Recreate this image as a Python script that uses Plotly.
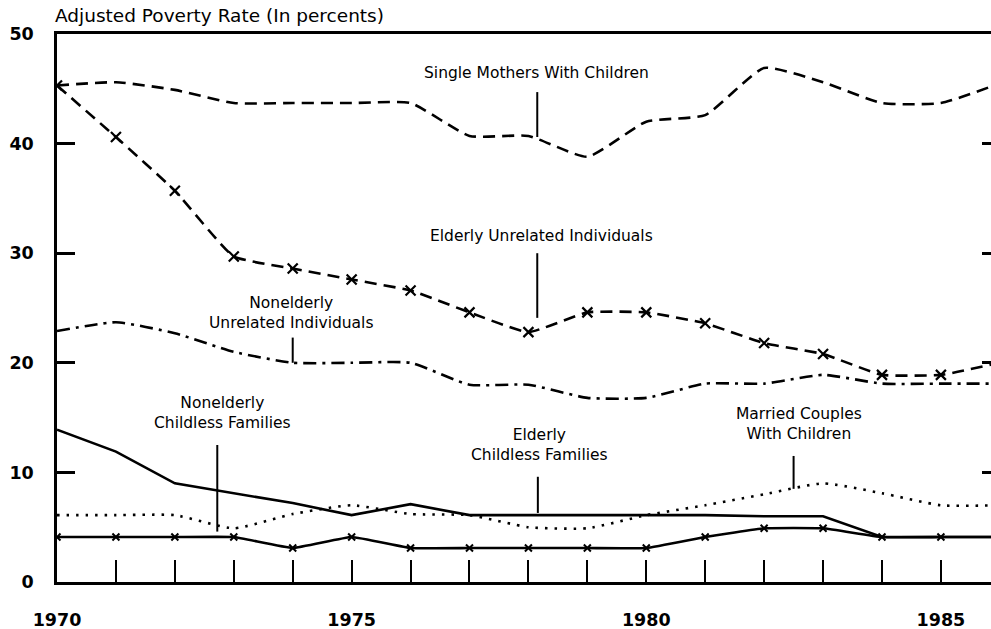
import plotly.graph_objects as go

years = list(range(1970, 1987))

single_mothers = [45.3, 45.6, 44.9, 43.7, 43.7, 43.7, 43.7, 40.7, 40.7, 38.8, 42.0, 42.6, 46.9, 45.6, 43.7, 43.7, 45.5]
elderly_unrelated = [45.3, 40.6, 35.7, 29.7, 28.6, 27.6, 26.6, 24.6, 22.8, 24.6, 24.6, 23.6, 21.8, 20.8, 18.9, 18.9, 20.0]
nonelderly_unrelated = [22.9, 23.7, 22.7, 21.0, 20.0, 20.0, 20.0, 18.0, 18.0, 16.8, 16.8, 18.1, 18.1, 18.9, 18.1, 18.1, 18.1]
solid_families = [13.9, 11.9, 9.0, 8.1, 7.2, 6.1, 7.1, 6.1, 6.1, 6.1, 6.1, 6.1, 6.0, 6.0, 4.1, 4.1, 4.1]
married_couples = [6.1, 6.1, 6.1, 4.9, 6.2, 7.0, 6.2, 6.1, 5.0, 4.9, 6.1, 7.0, 8.0, 9.0, 8.1, 7.0, 7.0]
bottom_families = [4.1, 4.1, 4.1, 4.1, 3.1, 4.1, 3.1, 3.1, 3.1, 3.1, 3.1, 4.1, 4.9, 4.9, 4.1, 4.1, 4.1]

y_ticks = [0, 10, 20, 30, 40, 50]
x_ticks = list(range(1970, 1986))
x_labelled = [1970, 1975, 1980, 1985]
x_ticklabels = [str(y) if y in x_labelled else "" for y in x_ticks]

# label text, label position (x, y) and pointer (x, y0, y1)
labels = [
    ("Single Mothers With Children", 1978.13, 46.4, 1978.15, 44.7, 40.6),
    ("Elderly Unrelated Individuals", 1978.23, 31.6, 1978.15, 30.0, 24.1),
    ("Nonelderly<br>Unrelated Individuals", 1973.97, 24.5, 1974.0, 22.3, 20.0),
    ("Nonelderly<br>Childless Families", 1972.8, 15.4, 1972.72, 12.5, 4.6),
    ("Elderly<br>Childless Families", 1978.18, 12.5, 1978.16, 9.6, 6.3),
    ("Married Couples<br>With Children", 1982.6, 14.4, 1982.5, 11.5, 8.5),
]

FONT = "DejaVu Sans"
fig = go.Figure()

def add(vals, dash, smooth, marker=None):
    kw = dict(x=years, y=vals, mode="lines", cliponaxis=True,
              line=dict(color="black", width=2.6, dash=dash,
                        shape="spline" if smooth else "linear",
                        smoothing=smooth if smooth else None),
              showlegend=False, hoverinfo="skip")
    if marker:
        kw["mode"] = "lines+markers"
        kw["marker"] = marker
    fig.add_trace(go.Scatter(**kw))

add(single_mothers, "12px,7px", 0.5)
add(elderly_unrelated, "12px,7px", 0.4,
    dict(symbol="x-thin", size=10, color="black", line=dict(color="black", width=2.2)))
add(nonelderly_unrelated, "13px,6px,3px,6px", 0.5)
add(married_couples, "2.5px,7px", 0.5)
add(solid_families, "solid", 0)
add(bottom_families, "solid", 0.3,
    dict(symbol="x-thin", size=7, color="black", line=dict(color="black", width=2)))

for text, lx, ly, px, py0, py1 in labels:
    fig.add_annotation(x=lx, y=ly, text=text, showarrow=False, xref="x", yref="y",
                       font=dict(family=FONT, size=15.5, color="black"), align="center")
    fig.add_shape(type="line", x0=px, x1=px, y0=py0, y1=py1, xref="x", yref="y",
                  line=dict(color="black", width=2))

fig.add_annotation(x=0, y=1, xref="paper", yref="paper", xanchor="left", yanchor="bottom",
                   xshift=-4, yshift=6,
                   text="Adjusted Poverty Rate (In percents)", showarrow=False,
                   font=dict(family=FONT, size=18.5, color="black"))

fig.update_layout(
    width=991, height=629,
    margin=dict(l=57, r=0, t=34, b=47, autoexpand=False),
    paper_bgcolor="white", plot_bgcolor="white",
    xaxis=dict(range=[1970, 1985.85], tickvals=x_ticks, ticktext=x_ticklabels,
               ticks="inside", ticklen=22, tickwidth=2, tickcolor="black",
               showline=True, linecolor="black", linewidth=2.5, mirror=True,
               showgrid=False, zeroline=False, ticklabelstandoff=20, automargin=False,
               tickfont=dict(family=FONT, size=17.5, color="black", weight="bold")),
    yaxis=dict(range=[0, 50], tickvals=y_ticks,
               ticks="inside", ticklen=18, tickwidth=2.5, tickcolor="black",
               showline=True, linecolor="black", linewidth=2.5, automargin=False,
               showgrid=False, zeroline=False, ticklabelstandoff=17,
               tickfont=dict(family=FONT, size=17.5, color="black", weight="bold")),
    yaxis2=dict(range=[0, 50], tickvals=[10, 20, 30, 40], overlaying="y", side="right",
                ticks="inside", ticklen=9, tickwidth=2.5, tickcolor="black", automargin=False,
                showticklabels=False, showline=False, showgrid=False, zeroline=False),
)
fig.add_trace(go.Scatter(x=[1970], y=[0], yaxis="y2", mode="markers",
                         marker=dict(opacity=0), showlegend=False, hoverinfo="skip"))

fig.write_html("out.html", config={"displayModeBar": False},
               post_script="document.body.style.margin='0px';")
